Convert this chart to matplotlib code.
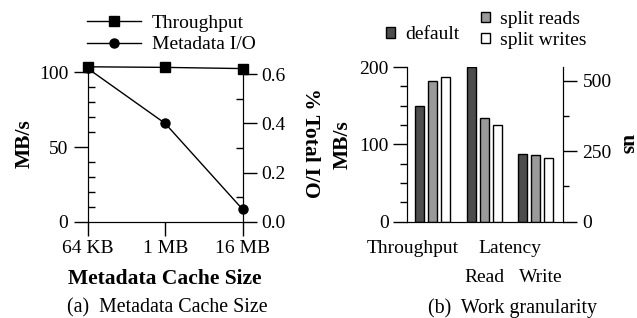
import numpy as np
import matplotlib
matplotlib.use("Agg")
import matplotlib.pyplot as plt
from matplotlib.lines import Line2D
from matplotlib.patches import Patch

plt.rcParams['font.family'] = ['Liberation Serif', 'DejaVu Serif']
plt.rcParams['font.size'] = 14

# (a) metadata cache size
cache_sizes = ["64 KB", "1 MB", "16 MB"]
throughput = [103.8, 103.4, 102.6]      # MB/s
meta_io = [0.624, 0.40, 0.05]            # % total I/O

# (b) work granularity
series = ["default", "split reads", "split writes"]
colors = ["#4d4d4d", "#9a9a9a", "#ffffff"]
tput_mbs = [149.7, 182, 187]             # Throughput, MB/s
lat_read_us = [548, 367, 344]            # Read latency, us
lat_write_us = [241, 235.5, 226]         # Write latency, us

LBL = 15.5

fig = plt.figure(figsize=(6.37, 3.18), dpi=100)

# ---------- panel (a) ----------
ax = fig.add_axes([0.1377, 0.3028, 0.2433, 0.4928])
ax2 = ax.twinx()
x = np.arange(len(cache_sizes))
ax.plot(x, throughput, color="black", lw=1.0, marker="s", ms=6.5, clip_on=False, zorder=5)
ax2.plot(x, meta_io, color="black", lw=1.0, marker="o", ms=6.5, clip_on=False, zorder=5)
ax.set_xlim(0, 2)
ax.set_ylim(0, 105)
ax2.set_ylim(0, 0.638)
ax.set_xticks(x)
ax.set_xticklabels(cache_sizes)
ax.set_yticks([0, 50, 100])
ax.set_yticks(np.arange(10, 100, 10), minor=True)
ax2.set_yticks([0.0, 0.2, 0.4, 0.6])
ax2.set_yticklabels(["0.0", "0.2", "0.4", "0.6"])
ax2.set_yticks([0.1, 0.3, 0.5], minor=True)
for a in (ax, ax2):
    a.spines['top'].set_visible(False)
ax.tick_params(axis='y', which='major', direction='out', length=10, width=1, pad=4)
ax.tick_params(axis='y', which='minor', direction='in', length=5, width=1)
ax.tick_params(axis='x', which='major', direction='out', length=10, width=1, pad=3.5)
ax2.tick_params(axis='y', which='major', direction='out', length=10, width=1, pad=3)
ax2.tick_params(axis='y', which='minor', direction='in', length=5, width=1)
ax.set_ylabel("MB/s", fontweight="bold", fontsize=LBL, labelpad=3)
ax2.set_ylabel("% Total I/O", fontweight="bold", fontsize=LBL, rotation=270, labelpad=25)
ax.set_xlabel("Metadata Cache Size", fontweight="bold", fontsize=LBL, labelpad=8)
h1 = Line2D([], [], color="black", lw=1.0, marker="s", ms=6.5)
h2 = Line2D([], [], color="black", lw=1.0, marker="o", ms=6.5)
fig.legend([h1, h2], ["Throughput", "Metadata I/O"], loc="upper left",
           bbox_to_anchor=(0.131, 0.967), frameon=False, handlelength=2.75,
           handletextpad=0.55, labelspacing=0.2, borderpad=0.2, borderaxespad=0)
fig.text(0.262, 0.032, "(a)  Metadata Cache Size", ha="center", va="center", fontsize=14.3)

# ---------- panel (b) ----------
bx = fig.add_axes([0.639, 0.3028, 0.2449, 0.4865])
bx2 = bx.twinx()
w = 0.17
offs = [-0.253, 0.0, 0.253]
for i in range(3):
    bx.bar(0 + offs[i], tput_mbs[i], w, color=colors[i], edgecolor="black", lw=1.0)
    bx2.bar([1 + offs[i], 2 + offs[i]], [lat_read_us[i], lat_write_us[i]], w,
            color=colors[i], edgecolor="black", lw=1.0)
bx.set_xlim(-0.5, 2.53)
bx.set_ylim(0, 200)
bx2.set_ylim(0, 549)
bx.set_yticks([0, 100, 200])
bx.set_yticks([25, 50, 75, 125, 150, 175], minor=True)
bx2.set_yticks([0, 250, 500])
bx2.set_yticks([125, 375], minor=True)
for a in (bx, bx2):
    a.spines['top'].set_visible(False)
bx.tick_params(axis='y', which='major', direction='out', length=10, width=1, pad=3)
bx.tick_params(axis='y', which='minor', direction='out', length=5, width=1)
bx2.tick_params(axis='y', which='major', direction='out', length=10, width=1, pad=4)
bx2.tick_params(axis='y', which='minor', direction='out', length=4, width=1)
bx.set_xticks([])
bx.set_ylabel("MB/s", fontweight="bold", fontsize=LBL, labelpad=5)
bx2.set_ylabel("us", fontweight="bold", fontsize=LBL, rotation=270, labelpad=19)
tr = bx.get_xaxis_transform()
bx.text(-0.39, -0.175, "Throughput", transform=tr, ha="center", va="center")
bx.text(1.5, -0.175, "Latency", transform=tr, ha="center", va="center")
bx.text(1.0, -0.36, "Read", transform=tr, ha="center", va="center")
bx.text(2.1, -0.36, "Write", transform=tr, ha="center", va="center")

patches = [Patch(facecolor=c, edgecolor="black", lw=1.0) for c in colors]
fig.legend(patches[:1], series[:1], loc="center left", bbox_to_anchor=(0.606, 0.89),
           frameon=False, handlelength=0.45, handleheight=0.45, handletextpad=0.55,
           borderpad=0, borderaxespad=0)
fig.legend(patches[1:], series[1:], loc="center left", bbox_to_anchor=(0.755, 0.906),
           frameon=False, handlelength=0.45, handleheight=0.45, handletextpad=0.55,
           labelspacing=0.2, borderpad=0, borderaxespad=0)
fig.text(0.805, 0.032, "(b)  Work granularity", ha="center", va="center", fontsize=14.3)

fig.savefig("out.png", dpi=100)
